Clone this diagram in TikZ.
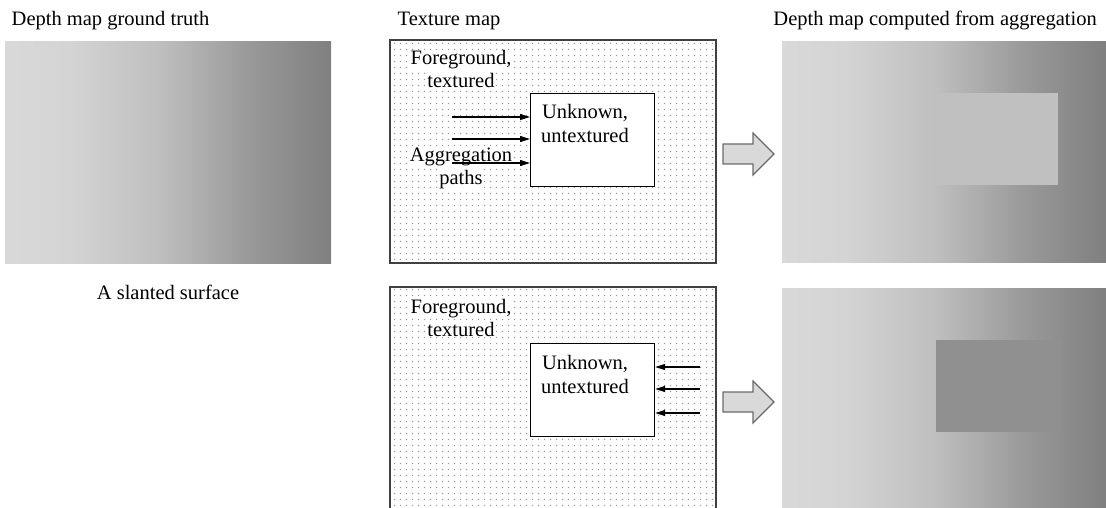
\documentclass[tikz,border=0pt]{standalone}
\usepackage{fontspec}
\setmainfont{Liberation Serif}
\usetikzlibrary{arrows.meta,patterns.meta}
\definecolor{g0}{gray}{0.85}
\definecolor{g1}{gray}{0.83}
\definecolor{g2}{gray}{0.75}
\definecolor{g3}{gray}{0.60}
\definecolor{g4}{gray}{0.50}
\definecolor{innerlight}{gray}{0.753}
\definecolor{innerdark}{gray}{0.565}
\definecolor{dotgray}{gray}{0.58}
\definecolor{boxgray}{gray}{0.25}
\definecolor{arrowfill}{gray}{0.85}
\definecolor{arrowline}{gray}{0.42}
\pgfdeclarehorizontalshading{depthshade}{100bp}{color(0bp)=(g0); color(25bp)=(g0); color(35bp)=(g1); color(48.5bp)=(g2); color(62.5bp)=(g3); color(75bp)=(g4); color(100bp)=(g4)}
\tikzdeclarepattern{
  name=texdots,
  type=uncolored,
  bounding box={(0pt,0pt) and (5.6pt,5.6pt)},
  tile size={(5.6pt,5.6pt)},
  code={\fill (2.8pt,2.8pt) circle (0.8pt);}
}
\begin{document}
\begin{tikzpicture}[x=1pt,y=-1pt,
  txt/.style={font=\fontsize{20.5}{23}\selectfont, inner sep=0pt},
  lbl/.style={txt, fill=white, inner sep=0.8pt, anchor=base},
  texbox/.style={draw=boxgray, line width=1.6pt},
  unkbox/.style={draw=black, fill=white, line width=1.2pt, minimum width=124pt, minimum height=93pt, anchor=north west, inner sep=0pt},
  pth/.style={line width=1.2pt, -{Triangle[length=10pt,width=6pt]}},
  blockarrow/.style={fill=arrowfill, draw=arrowline, line width=1.2pt, line join=miter}
]
\useasboundingbox (0,0) rectangle (1106,508);

% titles
\node[txt, anchor=base west] (t1) at (11.5,26) {Depth map ground truth};
\node[txt, anchor=base west] (t2) at (397.5,26) {Texture map};
\node[txt, anchor=base east] (t3) at (1097,26) {Depth map computed from aggregation};

% ground truth
\shade[shading=depthshade] (5,42) rectangle (331,263);
\node[txt, anchor=base] (t4) at (168,299) {A slanted surface};

% computed depth maps
\shade[shading=depthshade] (782,42) rectangle (1106,262);
\fill[innerlight] (935,93) rectangle (1058,185);
\shade[shading=depthshade] (782,288) rectangle (1106,508);
\fill[innerdark] (936,340) rectangle (1062,432);

% texture map, top
\fill[white] (390,40) rectangle (716,263);
\fill[pattern=texdots, pattern color=dotgray] (390,40) rectangle (716,263);
\draw[texbox] (390,40) rectangle (716,263);
\node[unkbox] (u1) at (530,93) {};
\node[lbl] (f1a) at (461,65) {Foreground,};
\node[lbl] (f1b) at (461,88) {textured};
\node[lbl] (k1a) at (585,119) {Unknown,};
\node[lbl] (k1b) at (585,143) {untextured};
\node[lbl] (a1a) at (461,161) {Aggregation};
\node[lbl] (a1b) at (461,184) {paths};
\coordinate (p1) at (452,117);
\coordinate (p2) at (452,139);
\coordinate (p3) at (452,163);
\draw[pth] (p1) -- (p1 -| u1.west);
\draw[pth] (p2) -- (p2 -| u1.west);
\draw[pth] (p3) -- (p3 -| u1.west);

% texture map, bottom
\fill[white] (390,287) rectangle (716,510);
\fill[pattern=texdots, pattern color=dotgray] (390,287) rectangle (716,510);
\draw[texbox] (390,287) rectangle (716,510);
\node[unkbox] (u2) at (530,343) {};
\node[lbl] (f2a) at (461,313) {Foreground,};
\node[lbl] (f2b) at (461,336) {textured};
\node[lbl] (k2a) at (585,369) {Unknown,};
\node[lbl] (k2b) at (585,393) {untextured};
\coordinate (q1) at (700,367);
\coordinate (q2) at (700,389);
\coordinate (q3) at (700,413);
\draw[pth] (q1) -- (q1 -| u2.east);
\draw[pth] (q2) -- (q2 -| u2.east);
\draw[pth] (q3) -- (q3 -| u2.east);

% block arrows
\draw[blockarrow] (723,144) -- (753,144) -- (753,133) -- (774,154) -- (753,175) -- (753,164) -- (723,164) -- cycle;
\draw[blockarrow] (723,392) -- (753,392) -- (753,381) -- (774,402) -- (753,423) -- (753,412) -- (723,412) -- cycle;
\end{tikzpicture}
\end{document}
